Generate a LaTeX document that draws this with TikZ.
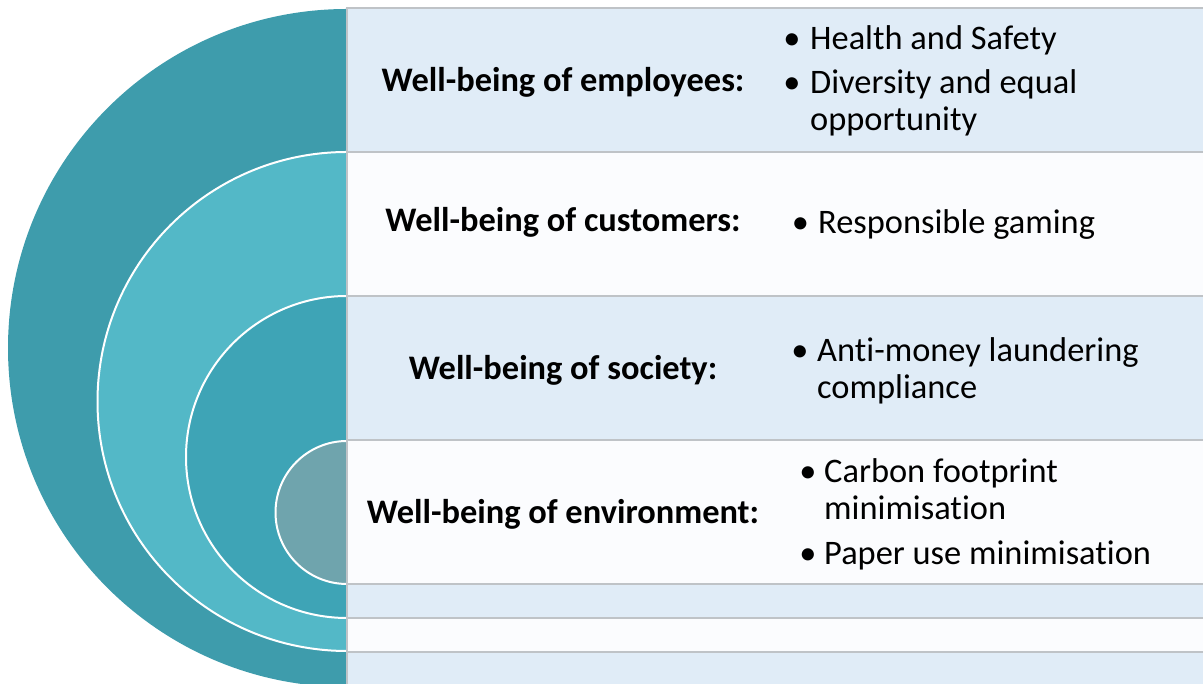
\documentclass[tikz,border=0pt]{standalone}
\usepackage{fontspec}
\setmainfont{Carlito}[Ligatures=NoCommon]
\definecolor{outerc}{HTML}{3E9CAC}
\definecolor{secondc}{HTML}{53B8C7}
\definecolor{thirdc}{HTML}{3EA4B6}
\definecolor{innerc}{HTML}{6FA4AD}
\definecolor{rowblue}{HTML}{E0ECF7}
\definecolor{rowwhite}{HTML}{FBFCFE}
\definecolor{gridgray}{HTML}{BFC3C7}
\tikzset{
  lab/.style={font=\bfseries\fontsize{34.4}{37}\selectfont, anchor=base, inner sep=0pt},
  itm/.style={font=\fontsize{34.4}{37}\selectfont, anchor=base west, inner sep=0pt},
  bul/.style={font=\fontsize{34.4}{37}\selectfont, anchor=base, inner sep=0pt},
  gridline/.style={draw=gridgray, line width=2.2pt},
  ring/.style={draw=white, line width=2pt},
}
\begin{document}
\begin{tikzpicture}[x=1pt,y=1pt]
\useasboundingbox (0,0) rectangle (1203,684);
\clip (0,0) rectangle (1203,684);
% table rows
\fill[rowblue]  (347,676) rectangle (1203,532);
\fill[rowwhite] (347,532) rectangle (1203,388);
\fill[rowblue]  (347,388) rectangle (1203,244);
\fill[rowwhite] (347,244) rectangle (1203,100);
\fill[rowblue]  (347,100) rectangle (1203,66);
\fill[rowwhite] (347,66)  rectangle (1203,32);
\fill[rowblue]  (347,32)  rectangle (1203,-5);
% row borders
\foreach \yy in {676,532,388,244,100,66,32}
  \draw[gridline] (347,\yy) -- (1203,\yy);
% half discs
\fill[outerc] (347,675) arc[start angle=90, end angle=270, radius=339] -- cycle;
\filldraw[fill=secondc, ring] (347,532) arc[start angle=90, end angle=270, radius=249.5];
\filldraw[fill=thirdc, ring] (347,388) arc[start angle=90, end angle=270, radius=161];
\filldraw[fill=innerc, ring] (347,243) arc[start angle=90, end angle=270, radius=71.5];
% left border
\draw[gridline] (347,677.1) -- (347,-5);
% labels
\node[lab] (l1) at (563,592) {Well-being of employees:};
\node[lab] (l2) at (563,452) {Well-being of customers:};
\node[lab] (l3) at (563,304) {Well-being of society:};
\node[lab] (l4) at (563,160) {Well-being of environment:};
% bullets
\node[bul] (b1) at (792,634) {•};
\node[itm] (t1) at (810,634) {Health and Safety};
\node[bul] (b2) at (792,590) {•};
\node[itm] (t2) at (810,590) {\begin{tabular}[t]{@{}l@{}}Diversity and equal\\opportunity\end{tabular}};
\node[bul] (b3) at (800.5,450) {•};
\node[itm] (t3) at (818,450) {Responsible gaming};
\node[bul] (b4) at (800,322) {•};
\node[itm] (t4) at (817,322) {\begin{tabular}[t]{@{}l@{}}Anti-money laundering\\compliance\end{tabular}};
\node[bul] (b5) at (808,201) {•};
\node[itm] (t5) at (824,201) {\begin{tabular}[t]{@{}l@{}}Carbon footprint\\minimisation\end{tabular}};
\node[bul] (b6) at (808,119) {•};
\node[itm] (t6) at (824,119) {Paper use minimisation};
\end{tikzpicture}
\end{document}
